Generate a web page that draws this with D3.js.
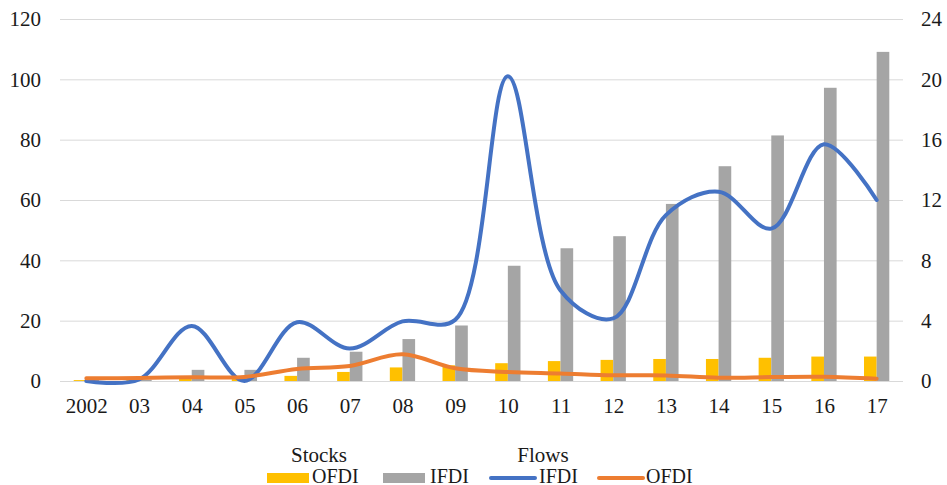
<!DOCTYPE html>
<html>
<head>
<meta charset="utf-8">
<script src="https://cdn.jsdelivr.net/npm/d3@7"></script>
<style>
  text { font-family: "Times New Roman", "Liberation Serif", Tinos, serif; }
</style>
</head>
<body style="margin:0">
<svg id="chart" width="947" height="485"></svg>
<script>
const years = ["2002","03","04","05","06","07","08","09","10","11","12","13","14","15","16","17"];
// Stocks (left axis)
const ofdiStock = [0.3, 0.3, 1.0, 1.5, 1.7, 3.0, 4.5, 5.2, 5.9, 6.6, 7.0, 7.3, 7.3, 7.7, 8.1, 8.1];
const ifdiStock = [0.4, 0.4, 3.7, 3.7, 7.7, 9.7, 13.9, 18.4, 38.2, 44.0, 48.0, 58.7, 71.2, 81.4, 97.2, 109.1];
// Flows (right axis)
const ifdiFlow = [0, 0.1, 3.65, 0, 3.9, 2.15, 3.95, 4.05, 20.2, 6.0, 4.15, 11.0, 12.55, 10.1, 15.7, 12.0];
const ofdiFlow = [0.18, 0.2, 0.25, 0.27, 0.8, 1.0, 1.77, 0.84, 0.6, 0.5, 0.38, 0.37, 0.22, 0.26, 0.28, 0.15];
const leftTicks = [0, 20, 40, 60, 80, 100, 120];
const rightTicks = [0, 4, 8, 12, 16, 20, 24];

const colors = { ofdiStock: "#FFC000", ifdiStock: "#A5A5A5", ifdiFlow: "#4472C4", ofdiFlow: "#ED7D31" };
const FAM = "Times New Roman";

const svg = d3.select("#chart");
const L = 60, R = 903, T = 19, B = 381;
const FS = 21;

const x = d3.scalePoint().domain(years).range([L, R]).padding(0.5);
const step = x.step();
const barW = step * 0.24;
const yL = d3.scaleLinear().domain([0, 120]).range([B, T]);
const yR = d3.scaleLinear().domain([0, 24]).range([B, T]);

function setFont(sel, size) {
  sel.attr("font-family", FAM)
     .style("font-family", `"${FAM}"`)
     .attr("font-size", size)
     .attr("fill", "#1a1a1a");
}

// gridlines
svg.append("g").selectAll("line").data(leftTicks).join("line")
  .attr("x1", L).attr("x2", R)
  .attr("y1", d => yL(d) + 0.5).attr("y2", d => yL(d) + 0.5)
  .attr("stroke", "#d9d9d9").attr("stroke-width", 1);

function styleAxis(g) {
  g.select(".domain").remove();
  g.attr("font-family", FAM).attr("font-size", FS);
  setFont(g.selectAll("text"), FS);
}

// left axis
const gL = svg.append("g").attr("transform", `translate(41,0)`)
  .call(d3.axisLeft(yL).tickValues(leftTicks).tickSize(0).tickPadding(0));
styleAxis(gL);

// right axis
const gR = svg.append("g").attr("transform", `translate(921,0)`)
  .call(d3.axisRight(yR).tickValues(rightTicks).tickSize(0).tickPadding(0));
styleAxis(gR);

// bottom axis labels
const gB = svg.append("g").attr("transform", `translate(0,398)`)
  .call(d3.axisBottom(x).tickSize(0).tickPadding(0));
styleAxis(gB);

// bars
svg.append("g").selectAll("rect").data(years).join("rect")
  .attr("x", d => x(d) - barW).attr("width", barW)
  .attr("y", (d, i) => yL(ofdiStock[i])).attr("height", (d, i) => yL(0) - yL(ofdiStock[i]))
  .attr("fill", colors.ofdiStock);
svg.append("g").selectAll("rect").data(years).join("rect")
  .attr("x", d => x(d)).attr("width", barW)
  .attr("y", (d, i) => yL(ifdiStock[i])).attr("height", (d, i) => yL(0) - yL(ifdiStock[i]))
  .attr("fill", colors.ifdiStock);

// lines
const line = d3.line().curve(d3.curveCatmullRom.alpha(0.5));
svg.append("path")
  .attr("d", line(years.map((d, i) => [x(d), yR(ifdiFlow[i])])))
  .attr("fill", "none").attr("stroke", colors.ifdiFlow).attr("stroke-width", 4).attr("stroke-linecap", "round");
svg.append("path")
  .attr("d", line(years.map((d, i) => [x(d), yR(ofdiFlow[i])])))
  .attr("fill", "none").attr("stroke", colors.ofdiFlow).attr("stroke-width", 4).attr("stroke-linecap", "round");

// legend
const lg = svg.append("g").attr("font-family", FAM);
const titles = [{ t: "Stocks", x: 319 }, { t: "Flows", x: 543 }];
titles.forEach(d => {
  setFont(lg.append("text").attr("x", d.x).attr("y", 462).attr("text-anchor", "middle").text(d.t), 21);
});
const legendItems = [
  { label: "OFDI", color: colors.ofdiStock, type: "rect", x0: 267, x1: 309, tx: 312 },
  { label: "IFDI", color: colors.ifdiStock, type: "rect", x0: 383, x1: 425, tx: 430 },
  { label: "IFDI", color: colors.ifdiFlow, type: "line", x0: 491, x1: 535, tx: 539 },
  { label: "OFDI", color: colors.ofdiFlow, type: "line", x0: 599, x1: 643, tx: 646 }
];
legendItems.forEach(it => {
  if (it.type === "rect") {
    lg.append("rect").attr("x", it.x0).attr("y", 473).attr("width", it.x1 - it.x0).attr("height", 10).attr("fill", it.color);
  } else {
    lg.append("line").attr("x1", it.x0).attr("x2", it.x1).attr("y1", 478).attr("y2", 478)
      .attr("stroke", it.color).attr("stroke-width", 4).attr("stroke-linecap", "round");
  }
  setFont(lg.append("text").attr("x", it.tx).attr("y", 483).text(it.label), 20);
});
</script>
</body>
</html>
